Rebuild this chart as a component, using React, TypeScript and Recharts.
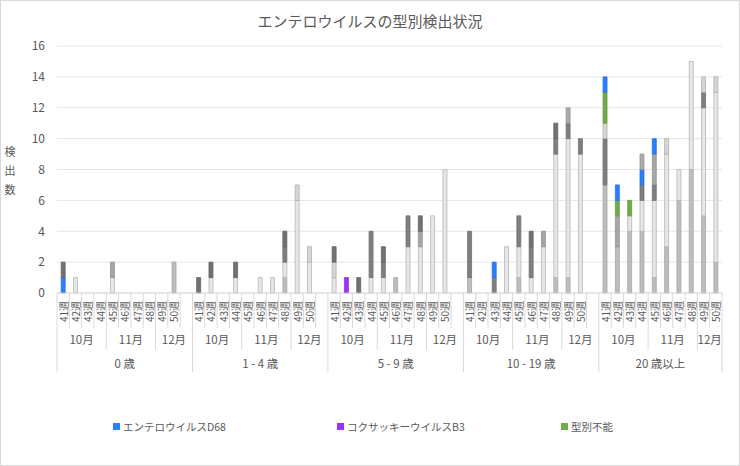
import React from 'react';
import { BarChart, Bar, XAxis, YAxis, CartesianGrid } from 'recharts';

const weeks = ['41週', '42週', '43週', '44週', '45週', '46週', '47週', '48週', '49週', '50週'];
const ageGroups = ['0 歳', '1 - 4 歳', '5 - 9 歳', '10 - 19 歳', '20 歳以上'];
const months = ['10月', '11月', '12月'];
const monthStart = [0, 4, 8];
const yTicks = [0, 2, 4, 6, 8, 10, 12, 14, 16];

// values per age group, weeks 41..50 (stack order bottom -> top)
const grayA = [
  [0, 0, 0, 0, 0, 0, 0, 0, 0, 2],
  [0, 0, 0, 0, 0, 0, 0, 1, 0, 0],
  [0, 0, 0, 0, 0, 1, 0, 0, 0, 0],
  [1, 0, 0, 0, 1, 0, 0, 1, 1, 0],
  [7, 3, 4, 4, 1, 3, 6, 8, 5, 2],
];
const grayB = [
  [0, 1, 0, 0, 1, 0, 0, 0, 0, 0],
  [0, 1, 0, 1, 0, 1, 1, 1, 6, 2],
  [1, 0, 0, 1, 1, 0, 3, 3, 5, 8],
  [0, 0, 0, 3, 2, 1, 3, 8, 9, 9],
  [0, 0, 1, 2, 5, 6, 2, 7, 7, 11],
];
const grayC = [
  [0, 0, 0, 0, 0, 0, 0, 0, 0, 0],
  [0, 0, 0, 0, 0, 0, 0, 1, 0, 0],
  [0, 0, 0, 3, 1, 0, 2, 0, 0, 0],
  [3, 0, 1, 0, 2, 2, 0, 1, 1, 1],
  [3, 0, 0, 1, 1, 0, 0, 0, 1, 0],
];
const grayE = [
  [0, 0, 0, 0, 0, 0, 0, 0, 0, 0],
  [0, 0, 0, 0, 0, 0, 0, 0, 1, 1],
  [1, 0, 0, 0, 0, 0, 0, 0, 0, 0],
  [0, 0, 0, 0, 0, 0, 0, 0, 0, 0],
  [1, 0, 0, 0, 0, 1, 0, 0, 1, 1],
];
const grayD = [
  [0, 0, 0, 0, 1, 0, 0, 0, 0, 0],
  [0, 0, 0, 0, 0, 0, 0, 0, 0, 0],
  [0, 0, 0, 0, 0, 0, 0, 1, 0, 0],
  [0, 0, 0, 0, 0, 0, 1, 0, 0, 0],
  [0, 2, 0, 0, 2, 0, 0, 0, 0, 0],
];
const untyped = [
  [0, 0, 0, 0, 0, 0, 0, 0, 0, 0],
  [0, 0, 0, 0, 0, 0, 0, 0, 0, 0],
  [0, 0, 0, 0, 0, 0, 0, 0, 0, 0],
  [0, 0, 0, 0, 0, 0, 0, 0, 0, 0],
  [2, 1, 1, 0, 0, 0, 0, 0, 0, 0],
];
const coxB3 = [
  [0, 0, 0, 0, 0, 0, 0, 0, 0, 0],
  [0, 0, 0, 0, 0, 0, 0, 0, 0, 0],
  [0, 1, 0, 0, 0, 0, 0, 0, 0, 0],
  [0, 0, 0, 0, 0, 0, 0, 0, 0, 0],
  [0, 0, 0, 0, 0, 0, 0, 0, 0, 0],
];
const evD68 = [
  [1, 0, 0, 0, 0, 0, 0, 0, 0, 0],
  [0, 0, 0, 0, 0, 0, 0, 0, 0, 0],
  [0, 0, 0, 0, 0, 0, 0, 0, 0, 0],
  [0, 0, 1, 0, 0, 0, 0, 0, 0, 0],
  [1, 1, 0, 1, 1, 0, 0, 0, 0, 0],
];
const grayD2 = [
  [0, 0, 0, 0, 0, 0, 0, 0, 0, 0],
  [0, 0, 0, 0, 0, 0, 0, 0, 0, 0],
  [0, 0, 0, 0, 0, 0, 0, 0, 0, 0],
  [0, 0, 0, 0, 0, 0, 0, 0, 1, 0],
  [0, 0, 0, 1, 0, 0, 0, 0, 0, 0],
];
const grayF = [
  [1, 0, 0, 0, 0, 0, 0, 0, 0, 0],
  [1, 1, 0, 1, 0, 0, 0, 1, 0, 0],
  [1, 0, 1, 0, 1, 0, 0, 1, 0, 0],
  [0, 0, 0, 0, 0, 1, 0, 1, 0, 0],
  [0, 0, 0, 0, 0, 0, 0, 0, 0, 0],
];

const SERIES = [
  { key: 'a', name: 'A', values: grayA, fill: '#bdbdbd', stroke: '#a3a3a3', legend: false },
  { key: 'b', name: 'B', values: grayB, fill: '#e7e6e6', stroke: '#b3b3b3', legend: false },
  { key: 'c', name: 'C', values: grayC, fill: '#7f7f7f', stroke: '#6e6e6e', legend: false },
  { key: 'e', name: 'E', values: grayE, fill: '#d6d6d6', stroke: '#acacac', legend: false },
  { key: 'd', name: 'D', values: grayD, fill: '#a6a6a6', stroke: '#8f8f8f', legend: false },
  { key: 'untyped', name: '型別不能', values: untyped, fill: '#70ad47', stroke: '#5e9a38', legend: true },
  { key: 'b3', name: 'コクサッキーウイルスB3', values: coxB3, fill: '#9933ff', stroke: '#8a2be8', legend: true },
  { key: 'd68', name: 'エンテロウイルスD68', values: evD68, fill: '#2b7fff', stroke: '#1f6fe6', legend: true },
  { key: 'd2', name: 'D2', values: grayD2, fill: '#aeaaaa', stroke: '#959191', legend: false },
  { key: 'f', name: 'F', values: grayF, fill: '#767171', stroke: '#625e5e', legend: false },
];

const LEGEND_ORDER = ['d68', 'b3', 'untyped'];

type Row = { [k: string]: string | number };

const rows: Row[] = [];
ageGroups.forEach((_, gi) => {
  weeks.forEach((w, wi) => {
    const row: Row = { key: `${gi}-${wi}`, week: w, gi, wi };
    SERIES.forEach((s) => {
      row[s.key] = s.values[gi][wi];
    });
    rows.push(row);
  });
  if (gi < ageGroups.length - 1) rows.push({ key: `${gi}-gap`, week: '', gi, wi: 10 });
});

const W = 740;
const H = 466;
const X_AXIS_H = 173;
const MARGIN = { top: 46, right: 18, bottom: 0, left: 0 };
const Y_AXIS_W = 57;
const PLOT_W = W - MARGIN.left - MARGIN.right - Y_AXIS_W;
const BAND = PLOT_W / rows.length;
const AXIS_Y = H - X_AXIS_H;
const TEXT = '#595959';
const LINE = '#d9d9d9';
const FONT = '"Noto Sans CJK JP", "Noto Sans", sans-serif';

const CategoryTick = (props: any) => {
  const { x, index } = props;
  const row = rows[index];
  if (!row) return null;
  const gi = row.gi as number;
  const wi = row.wi as number;
  const left = x - BAND / 2;
  const isLast = gi === ageGroups.length - 1;
  const groupSpan = isLast ? 10 : 11;
  let lineBottom = AXIS_Y + 35;
  if (wi === 0) lineBottom = AXIS_Y + 79;
  else if (wi === 4 || wi === 8) lineBottom = AXIS_Y + 57;
  const mi = monthStart.indexOf(wi);
  const monthSpan = mi === 2 ? groupSpan - 8 : 4;
  return (
    <g fontFamily={FONT} fill={TEXT}>
      <line x1={left} x2={left} y1={AXIS_Y} y2={lineBottom} stroke={LINE} strokeWidth={1} />
      {isLast && wi === 9 && (
        <line x1={left + BAND} x2={left + BAND} y1={AXIS_Y} y2={AXIS_Y + 79} stroke={LINE} strokeWidth={1} />
      )}
      {row.week && (
        <text
          x={x}
          y={AXIS_Y + 8}
          transform={`rotate(-90, ${x}, ${AXIS_Y + 8})`}
          textAnchor="end"
          dominantBaseline="central"
          fontSize={10}
        >
          {row.week}
        </text>
      )}
      {mi >= 0 && (
        <text x={left + (monthSpan * BAND) / 2} y={AXIS_Y + 46} textAnchor="middle" dominantBaseline="central" fontSize={11.5}>
          {months[mi]}
        </text>
      )}
      {wi === 0 && (
        <text x={left + (groupSpan * BAND) / 2} y={AXIS_Y + 70} textAnchor="middle" dominantBaseline="central" fontSize={11.5}>
          {ageGroups[gi]}
        </text>
      )}
    </g>
  );
};

const App: React.FC = () => {
  const legendItems = LEGEND_ORDER.map((k) => SERIES.find((s) => s.key === k)!);
  return (
    <div style={{ position: 'relative', width: W, height: H, background: '#fff', fontFamily: FONT, overflow: 'hidden' }}>
      <style>{'body{margin:0}'}</style>
      <div style={{ position: 'absolute', top: 10, left: 0, width: W, textAlign: 'center', fontSize: 15, color: TEXT, lineHeight: '22px' }}>
        エンテロウイルスの型別検出状況
      </div>
      <div style={{ position: 'absolute', left: 4, top: 142, width: 12, fontSize: 11, color: TEXT, lineHeight: '19px', textAlign: 'center' }}>
        {'検出数'.split('').map((c) => (
          <div key={c}>{c}</div>
        ))}
      </div>
      <BarChart width={W} height={H} data={rows} margin={MARGIN} barCategoryGap="34%">
        <CartesianGrid vertical={false} stroke="#e6e6e6" />
        <XAxis
          dataKey="key"
          interval={0}
          tickLine={false}
          axisLine={{ stroke: LINE }}
          tick={<CategoryTick />}
          height={X_AXIS_H}
        />
        <YAxis
          domain={[0, 16]}
          ticks={yTicks}
          width={Y_AXIS_W}
          axisLine={false}
          tickLine={false}
          tickSize={0}
          tickMargin={12}
          tick={{ fill: TEXT, fontSize: 12, fontFamily: FONT }}
        />
        {SERIES.map((s) => (
          <Bar
            key={s.key}
            dataKey={s.key}
            name={s.name}
            stackId="all"
            fill={s.fill}
            stroke={s.stroke}
            strokeWidth={0.75}
            isAnimationActive={false}
          />
        ))}
      </BarChart>
      <div style={{ position: 'absolute', left: 113, top: 419, display: 'flex', fontSize: 10.5, color: TEXT }}>
        {legendItems.map((s) => (
          <div key={s.key} style={{ width: 224, display: 'flex', alignItems: 'center' }}>
            <span style={{ display: 'inline-block', width: 7, height: 7, background: s.fill, marginRight: 3 }} />
            <span>{s.name}</span>
          </div>
        ))}
      </div>
      <div style={{ position: 'absolute', inset: 0, border: '1px solid #d9d9d9', pointerEvents: 'none' }} />
    </div>
  );
};

export default App;
